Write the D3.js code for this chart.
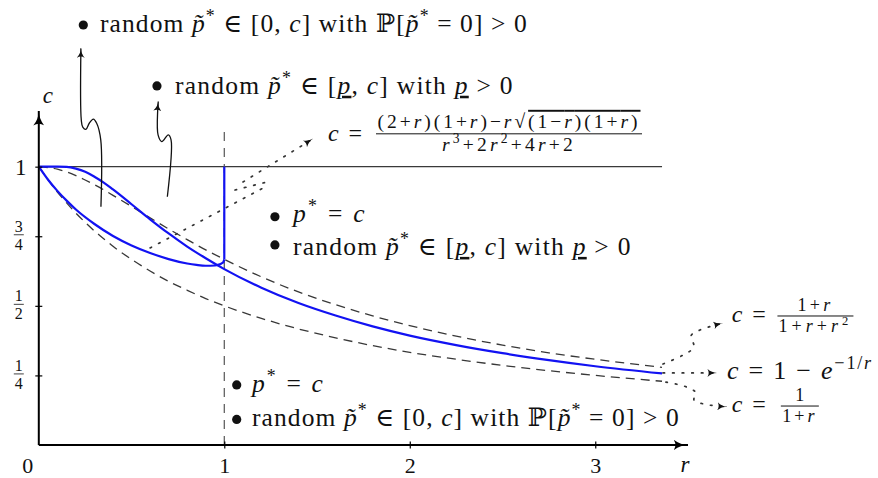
<!DOCTYPE html>
<html>
<head>
<meta charset="utf-8">
<script src="https://cdn.jsdelivr.net/npm/d3@7"></script>
<style>
  html, body { margin: 0; padding: 0; background: #fff; }
  svg { display: block; }
  text { font-family: "Liberation Serif", "DejaVu Serif", serif; fill: #111; }
</style>
</head>
<body>
<svg id="chart" width="878" height="478"></svg>
<script>
// ---- sampled curves c(r) ----
const rGrid = [0, 0.1, 0.15, 0.2, 0.25, 0.3, 0.35, 0.4, 0.5, 0.6, 0.7, 0.8, 0.9, 1.0,
               1.2, 1.4, 1.6, 1.8, 2.0, 2.25, 2.5, 2.75, 3.0, 3.36];
// c = 1 - e^{-1/r}
const cExp = [1, 1.000, 0.999, 0.993, 0.982, 0.964, 0.943, 0.918, 0.865, 0.811, 0.760, 0.713, 0.671, 0.632,
              0.565, 0.510, 0.465, 0.426, 0.393, 0.359, 0.330, 0.305, 0.283, 0.257];
// c = (1+r)/(1+r+r^2)
const cRatio = [1, 0.991, 0.981, 0.968, 0.952, 0.935, 0.917, 0.897, 0.857, 0.816, 0.776, 0.738, 0.701, 0.667,
                0.604, 0.550, 0.504, 0.464, 0.429, 0.391, 0.359, 0.331, 0.308, 0.279];
// c = 1/(1+r)
const cInv = [1, 0.909, 0.870, 0.833, 0.800, 0.769, 0.741, 0.714, 0.667, 0.625, 0.588, 0.556, 0.526, 0.500,
              0.455, 0.417, 0.385, 0.357, 0.333, 0.308, 0.286, 0.267, 0.250, 0.229];
// threshold curve on [0, 1]
const rThr = [0, 0.05, 0.1, 0.15, 0.2, 0.3, 0.4, 0.5, 0.6, 0.7, 0.8, 0.85, 0.9, 0.95, 0.98, 0.99, 0.995, 1.0];
const cThr = [1, 0.953, 0.913, 0.878, 0.846, 0.794, 0.751, 0.717, 0.690, 0.668, 0.652, 0.647, 0.644, 0.645, 0.650, 0.654, 0.657, 0.667];
// vertical boundary at r = 1
const rWall = [1, 1];
const cWall = [0.667, 1];

// axes ticks
const xTicks = [1, 2, 3];
const xTickLabels = ["1", "2", "3"];
const yTicks = [0.25, 0.5, 0.75];
const yTickNum = ["1", "1", "3"];
const yTickDen = ["4", "2", "4"];

const svg = d3.select("#chart");
const x = d3.scaleLinear().domain([0, 3.5]).range([38.8, 688]);
const y = d3.scaleLinear().domain([0, 1.2]).range([445, 111]);

const pts = (rs, cs) => rs.map((r, i) => [r, cs[i]]);
const smooth = d3.line().x(d => x(d[0])).y(d => y(d[1])).curve(d3.curveMonotoneX);
const straight = d3.line().x(d => x(d[0])).y(d => y(d[1]));
const wiggly = d3.line().x(d => x(d[0])).y(d => y(d[1])).curve(d3.curveCatmullRom.alpha(0.5));

// ---- arrowheads ----
const defs = svg.append("defs");
function marker(id, len, wid, color) {
  defs.append("marker").attr("id", id)
    .attr("markerUnits", "userSpaceOnUse")
    .attr("viewBox", `0 0 ${len} ${wid}`)
    .attr("markerWidth", len).attr("markerHeight", wid)
    .attr("refX", len - 0.5).attr("refY", wid / 2)
    .attr("orient", "auto")
    .append("path")
    .attr("d", `M0,0 Q${len * 0.45},${wid / 2} ${len},${wid / 2} Q${len * 0.45},${wid / 2} 0,${wid} Q${len * 0.25},${wid / 2} 0,0 Z`)
    .attr("fill", color);
}
marker("axisTip", 15, 11, "#000");
marker("thinTip", 10, 8, "#111");
marker("dotTip", 10, 8, "#111");

// ---- reference lines ----
svg.append("path").attr("d", straight([[0, 1], [3.36, 1]]))
  .attr("stroke", "#3a3a3a").attr("stroke-width", 1.1).attr("fill", "none");
svg.append("path").attr("d", straight([[1, 0], [1, 1.125]]))
  .attr("stroke", "#555").attr("stroke-width", 1.2).attr("fill", "none")
  .attr("stroke-dasharray", "9,7");

// ---- dashed bounds ----
[cRatio, cInv].forEach(cs => {
  svg.append("path").attr("d", smooth(pts(rGrid, cs)))
    .attr("stroke", "#383838").attr("stroke-width", 1.3).attr("fill", "none")
    .attr("stroke-dasharray", "9,6");
});

// ---- blue regime boundaries ----
const blue = "#1212f2";
svg.append("path").attr("d", smooth(pts(rGrid, cExp)))
  .attr("stroke", blue).attr("stroke-width", 2.2).attr("fill", "none");
svg.append("path").attr("d", smooth(pts(rThr, cThr)))
  .attr("stroke", blue).attr("stroke-width", 2.2).attr("fill", "none");
svg.append("path").attr("d", straight(pts(rWall, cWall)))
  .attr("stroke", blue).attr("stroke-width", 2.2).attr("fill", "none");

// ---- axes ----
const xAxis = svg.append("g").attr("transform", `translate(0,${y(0)})`)
  .call(d3.axisBottom(x).tickValues(xTicks).tickFormat((d, i) => xTickLabels[i]).tickSize(0).tickPadding(0));
xAxis.select(".domain").remove();
xAxis.selectAll(".tick line").attr("y1", -3.5).attr("y2", 3.5).attr("stroke", "#000").attr("stroke-width", 1.2);
xAxis.selectAll(".tick text").attr("y", 28).attr("dy", null)
  .style("font-family", "'Liberation Serif', serif").style("font-size", "22px").attr("fill", "#111");

const yAxis = svg.append("g").attr("transform", `translate(${x(0)},0)`)
  .call(d3.axisLeft(y).tickValues(yTicks.concat([1])).tickFormat("").tickSize(0));
yAxis.select(".domain").remove();
yAxis.selectAll(".tick line").attr("x1", -3.5).attr("x2", 3.5).attr("stroke", "#000").attr("stroke-width", 1.2);

svg.append("path").attr("d", straight([[0, 0], [3.5, 0]]))
  .attr("stroke", "#000").attr("stroke-width", 2).attr("fill", "none").attr("marker-end", "url(#axisTip)");
svg.append("path").attr("d", straight([[0, 0], [0, 1.2]]))
  .attr("stroke", "#000").attr("stroke-width", 2).attr("fill", "none").attr("marker-end", "url(#axisTip)");

// y tick labels
svg.append("text").attr("x", x(0) - 18).attr("y", y(1) + 8).attr("text-anchor", "middle")
  .style("font-size", "23px").text("1");
yTicks.forEach((v, i) => {
  const cx = x(0) - 20, cy = y(v) - 1.5;
  svg.append("text").attr("x", cx).attr("y", cy - 3).attr("text-anchor", "middle")
    .style("font-size", "16px").text(yTickNum[i]);
  svg.append("line").attr("x1", cx - 5).attr("x2", cx + 5).attr("y1", cy).attr("y2", cy)
    .attr("stroke", "#111").attr("stroke-width", 0.8);
  svg.append("text").attr("x", cx).attr("y", cy + 15).attr("text-anchor", "middle")
    .style("font-size", "16px").text(yTickDen[i]);
});
svg.append("text").attr("x", x(0) - 11).attr("y", y(0) + 28).attr("text-anchor", "middle")
  .style("font-size", "22px").text("0");
svg.append("text").attr("x", x(0) + 4).attr("y", y(1.2) - 8).style("font-size", "23px")
  .style("font-style", "italic").text("c");
svg.append("text").attr("x", x(3.46)).attr("y", y(0) + 27).style("font-size", "23px")
  .style("font-style", "italic").text("r");

// ---- rich text helper ----
// parts: [text, flags] where flags may contain i (italic), s (superscript), u (underline), o (overline)
// width: total advance in px, reached by spreading the letters
function rich(px, py, parts, fs, width, anchor) {
  const t = svg.append("text").attr("x", px).attr("y", py).style("font-size", fs + "px");
  if (anchor) t.attr("text-anchor", anchor);
  let shift = 0;
  parts.forEach(([s, f = ""]) => {
    const sp = t.append("tspan").text(s);
    const target = f.includes("s") ? -fs * 0.38 : 0;
    if (target !== shift) { sp.attr("dy", target - shift); shift = target; }
    if (f.includes("s")) sp.style("font-size", (fs * 0.7) + "px");
    if (f.includes("i")) sp.style("font-style", "italic");
    if (f.includes("u")) sp.style("text-decoration", "underline");
    if (f.includes("o")) sp.style("text-decoration", "overline");
  });
  if (width) {
    const n = t.node();
    const len = n.getComputedTextLength();
    const k = n.getNumberOfChars();
    t.style("letter-spacing", ((width - len) / k) + "px");
  }
  return t;
}
function bullet(r, c) {
  svg.append("circle").attr("cx", x(r)).attr("cy", y(c)).attr("r", 4.6).attr("fill", "#111");
}

const lblZero = [["random "], ["p̃", "i"], ["*", "s"], [" ∈ [0, "], ["c", "i"], ["] with ℙ["], ["p̃", "i"], ["*", "s"], [" = 0] > 0"]];
const lblLow = [["random "], ["p̃", "i"], ["*", "s"], [" ∈ ["], ["p", "iu"], [", "], ["c", "i"], ["] with "], ["p", "iu"], [" > 0"]];
const lblEq = [["p", "i"], ["*", "s"], [" = "], ["c", "i"]];
const FS = 25.5;

// labels above the plot
bullet(0.240, 1.509); rich(x(0.330), y(1.485), lblZero, FS, 430);
bullet(0.637, 1.290); rich(x(0.734), y(1.262), lblLow, FS, 340);
// middle region
bullet(1.273, 0.820); rich(x(1.370), y(0.802), lblEq, FS, 74);
bullet(1.273, 0.719); rich(x(1.370), y(0.683), lblLow, FS, 340);
// lower region
bullet(1.067, 0.216); rich(x(1.149), y(0.192), lblEq, FS, 73);
bullet(1.067, 0.092); rich(x(1.149), y(0.070), lblZero, FS, 430);

// ---- wiggly pointers ----
const wig1 = [[0.335, 0.856], [0.334, 1.096], [0.312, 1.156], [0.294, 1.171], [0.272, 1.156], [0.254, 1.134], [0.237, 1.142], [0.229, 1.168], [0.227, 1.425]];
const wig2 = [[0.693, 0.892], [0.713, 1.096], [0.698, 1.114], [0.663, 1.090], [0.643, 1.114], [0.641, 1.204], [0.644, 1.234]];
[wig1, wig2].forEach(p => {
  svg.append("path").attr("d", wiggly(p)).attr("stroke", "#111").attr("stroke-width", 1.3)
    .attr("fill", "none").attr("marker-end", "url(#thinTip)");
});

// ---- dotted pointers ----
function dotted(p, arrow) {
  const el = svg.append("path").attr("d", wiggly(p)).attr("stroke", "#333").attr("stroke-width", 1.7)
    .attr("fill", "none").attr("stroke-dasharray", "1.6,8").attr("stroke-linecap", "round");
  if (arrow) el.attr("marker-end", "url(#dotTip)");
}
dotted([[0.600, 0.708], [1.209, 0.923]], false);
dotted([[1.058, 0.916], [1.230, 0.945]], false);
dotted([[1.101, 0.945], [1.478, 1.100]], true);
dotted([[3.365, 0.291], [3.473, 0.323], [3.532, 0.352], [3.516, 0.392], [3.564, 0.413], [3.688, 0.438]], true);
dotted([[3.365, 0.259], [3.656, 0.259]], true);
dotted([[3.381, 0.226], [3.494, 0.208], [3.543, 0.187], [3.532, 0.162], [3.586, 0.147], [3.710, 0.137]], true);

// ---- formula labels ----
function fraction(rc, cBar, halfW, num, den, fs, wNum, wDen, gapNum, gapDen) {
  svg.append("line").attr("x1", x(rc) - halfW).attr("x2", x(rc) + halfW)
    .attr("y1", y(cBar)).attr("y2", y(cBar)).attr("stroke", "#111").attr("stroke-width", 1);
  rich(x(rc), y(cBar) - gapNum, num, fs, wNum, "middle");
  rich(x(rc), y(cBar) + gapDen, den, fs, wDen, "middle");
}
// threshold curve formula
rich(x(1.559), y(1.092), [["c", "i"], [" ="]], 24, 36);
fraction(2.535, 1.118, 133,
  [["(2+"], ["r", "i"], [")(1+"], ["r", "i"], [")−"], ["r", "i"], ["√"], ["(1−", "o"], ["r", "io"], [")(1+", "o"], ["r", "io"], [")", "o"]],
  [["r", "i"], ["3", "s"], ["+2"], ["r", "i"], ["2", "s"], ["+4"], ["r", "i"], ["+2"]], 19.5, 263, 134, 6, 17);

// right-hand formula labels
rich(x(3.736), y(0.442), [["c", "i"], [" ="]], 24, 36);
fraction(4.187, 0.4635, 38, [["1+"], ["r", "i"]], [["1+"], ["r", "i"], ["+"], ["r", "i"], ["2", "s"]], 18, 36, 74, 5, 16);
rich(x(3.710), y(0.237), [["c", "i"], [" = 1 − "], ["e", "i"], ["−1/", "s"], ["r", "si"]], 26, 146);
rich(x(3.736), y(0.119), [["c", "i"], [" ="]], 24, 36);
fraction(4.103, 0.140, 19, [["1"]], [["1+"], ["r", "i"]], 18, null, 35, 5, 16);
</script>
</body>
</html>
